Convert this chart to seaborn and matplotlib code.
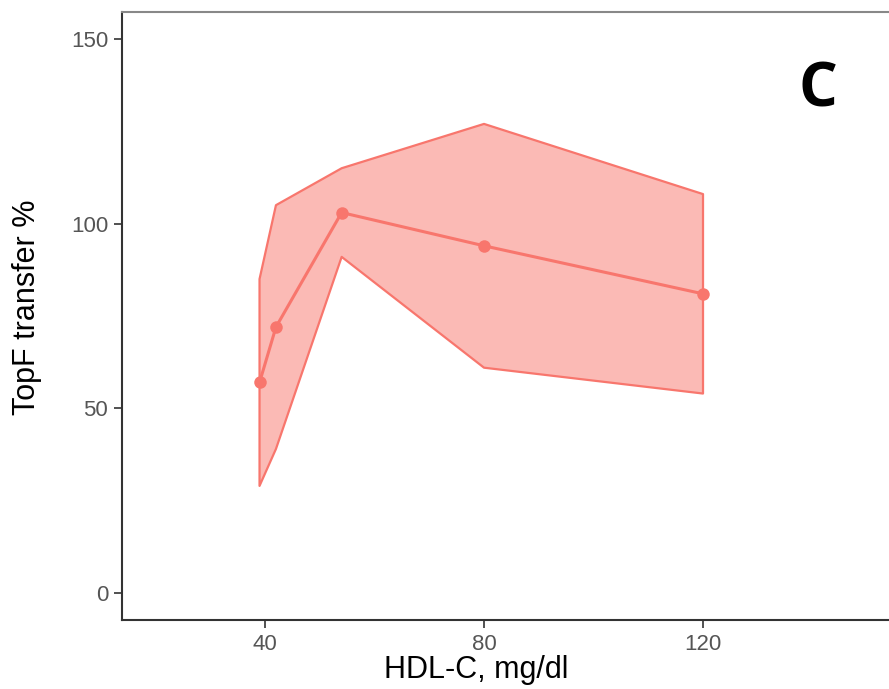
import matplotlib
matplotlib.use("Agg")
import matplotlib.pyplot as plt
import seaborn as sns
import pandas as pd

hdl = [39, 42, 54, 80, 120]
topf = [57, 72, 103, 94, 81]
upper = [85, 105, 115, 127, 108]
lower = [29, 39, 91, 61, 54]
xticks = [40, 80, 120]
yticks = [0, 50, 100, 150]

sns.set_theme(style="white")
plt.rcParams['font.family'] = ['Liberation Sans', 'DejaVu Sans']

df = pd.DataFrame({"hdl": hdl, "topf": topf, "upper": upper, "lower": lower})
col = "#F8766D"

fig = plt.figure(figsize=(8.89, 6.89), dpi=100)
ax = fig.add_axes([122/889, 1-620/689, 767/889, 608/689])

ax.fill_between(df["hdl"], df["lower"], df["upper"], facecolor=col, alpha=0.5,
                edgecolor="none", zorder=1)
ax.fill_between(df["hdl"], df["lower"], df["upper"], facecolor="none",
                edgecolor=col, linewidth=1.6, zorder=2)
sns.lineplot(data=df, x="hdl", y="topf", ax=ax, color=col, linewidth=2.2,
             marker="o", markersize=9, markeredgewidth=0, zorder=3)

ax.set_xlim(13.88, 153.97)
ax.set_ylim(-7.31, 157.3)
ax.set_xticks(xticks)
ax.set_yticks(yticks)
ax.tick_params(axis="both", which="major", length=6, width=1.2, color="#333333",
               labelsize=16, labelcolor="#555555", direction="out", pad=4,
               bottom=True, left=True)

for s in ["left", "bottom"]:
    ax.spines[s].set_color("#333333")
    ax.spines[s].set_linewidth(1.5)
ax.spines["top"].set_color("#888888")
ax.spines["top"].set_linewidth(1.5)
ax.spines["right"].set_visible(False)

ax.set_xlabel("HDL-C, mg/dl", fontsize=22, color="black")
ax.set_ylabel("TopF transfer %", fontsize=22, color="black")
ax.xaxis.set_label_coords((476-122)/767, -50/608)
ax.yaxis.set_label_coords((27-122)/767, (620-307)/608)
ax.xaxis.label.set_va("center")
ax.yaxis.label.set_va("center")

fig.text(818/889, 1-91/689, "C", fontsize=44, fontweight="bold", color="black",
         family=["Open Sans", "DejaVu Sans"], ha="center", va="center")

fig.savefig("out.png", dpi=100)
